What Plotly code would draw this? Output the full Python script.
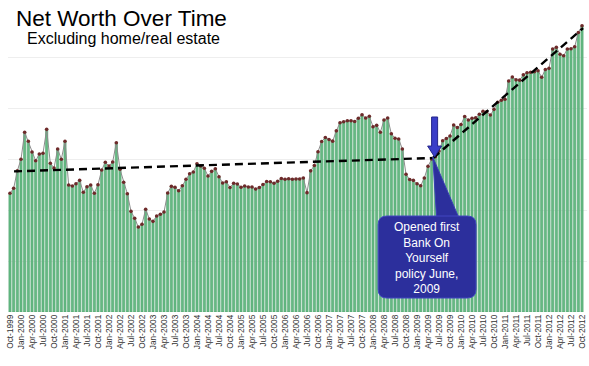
import pandas as pd
import plotly.graph_objects as go

# Monthly net worth (arbitrary $K units, gridline every 50), Oct-1999 .. Oct-2012
values = [
    116.4, 121.3, 138.5, 149.7, 176.2, 167.4, 156.9, 148.3, 154.9, 155.6,
    179.1, 145.8, 141.2, 159.8, 149.7, 167.4, 124.5, 123.5, 125.8, 129.1,
    117.4, 122.8, 124.5, 116.4, 124.8, 139.2, 146.8, 143.1, 147.1, 166.0,
    139.9, 127.2, 116.0, 98.7, 91.9, 83.3, 86.0, 100.7, 91.2, 88.9,
    94.1, 95.8, 98.0, 116.7, 123.2, 122.3, 118.9, 123.8, 130.1, 135.6,
    137.3, 145.4, 143.1, 140.9, 133.3, 137.9, 140.5, 132.6, 126.5, 127.7,
    122.1, 126.3, 125.5, 122.3, 123.5, 122.5, 122.5, 120.6, 122.1, 125.0,
    127.9, 127.7, 126.3, 128.2, 130.9, 130.2, 130.7, 130.1, 130.4, 130.4,
    131.4, 117.0, 138.4, 143.6, 157.1, 167.2, 171.1, 169.1, 167.5, 177.6,
    185.6, 186.5, 187.5, 187.5, 186.8, 189.9, 193.4, 190.2, 191.9, 181.7,
    183.0, 176.3, 188.2, 190.2, 174.7, 170.4, 169.6, 159.8, 135.1, 129.9,
    129.1, 125.8, 123.8, 131.4, 142.8, 150.0, 152.3, 157.8, 167.9, 170.1,
    172.5, 183.3, 180.9, 183.8, 191.7, 188.2, 189.9, 190.4, 193.9, 196.8,
    196.4, 193.1, 198.7, 205.6, 207.6, 208.6, 226.5, 230.4, 227.6, 227.3,
    232.5, 234.6, 235.1, 235.5, 236.6, 230.2, 237.7, 238.9, 257.8, 259.5,
    252.7, 251.3, 257.8, 258.1, 260.1, 274.0, 280.6,
]
months = pd.date_range("1999-10-01", periods=len(values), freq="MS")
month_idx = list(range(len(values)))
tick_idx = month_idx[::3]
tick_labels = [f"{months[i]:%b}-{months[i].year}" for i in tick_idx]

# Trend lines (month index, value)
trend1_x = [1.1, 115.4]
trend1_y = [137.9, 151.0]
trend2_x = [115.4, 156.3]
trend2_y = [151.0, 278.3]

callout_text = "Opened first<br>Bank On<br>Yourself<br>policy June,<br>2009"

FONT = "Arial, Liberation Sans, sans-serif"

fig = go.Figure()
fig.add_trace(go.Bar(
    x=month_idx, y=values,
    marker=dict(color="#66ba84", line=dict(color="#479c66", width=0.5)),
    hoverinfo="skip",
))
fig.add_trace(go.Scatter(
    x=month_idx, y=values, mode="lines+markers",
    line=dict(color="#8c8c8c", width=1),
    marker=dict(color="#6e2a2a", size=3.6),
    hoverinfo="skip",
))
for tx, ty in ((trend1_x, trend1_y), (trend2_x, trend2_y)):
    fig.add_trace(go.Scatter(
        x=tx, y=ty, mode="lines",
        line=dict(color="black", width=2.4, dash="8px,5px"),
        hoverinfo="skip",
    ))

# Callout box (rounded rect) and wedge
x0, x1, y0, y1 = 100.4, 127.1, 13.7, 94.1
rx, ry = 2.4, 8.5
box_path = (f"M {x0+rx},{y1} L {x1-rx},{y1} Q {x1},{y1} {x1},{y1-ry} "
            f"L {x1},{y0+ry} Q {x1},{y0} {x1-rx},{y0} L {x0+rx},{y0} "
            f"Q {x0},{y0} {x0},{y0+ry} L {x0},{y1-ry} Q {x0},{y1} {x0+rx},{y1} Z")
wedge_path = "M 115.3,152 L 116.4,90 L 122.7,90 Z"
# Down arrow
cx = 115.8
arrow_path = (f"M {cx-0.82},191.2 L {cx+0.82},191.2 L {cx+0.82},162.7 L {cx+1.9},162.7 "
              f"L {cx},152.0 L {cx-1.9},162.7 L {cx-0.82},162.7 Z")
shapes = [
    dict(type="path", path=wedge_path, xref="x", yref="y",
         fillcolor="#2c2f9c", line=dict(color="#3a3eb5", width=1), layer="above"),
    dict(type="path", path=box_path, xref="x", yref="y",
         fillcolor="#2c2f9c", line=dict(color="#4347c2", width=1), layer="above"),
    dict(type="path", path=arrow_path, xref="x", yref="y",
         fillcolor="#3a3dc8", line=dict(color="#24268a", width=1), layer="above"),
]

annotations = [
    dict(text="Net Worth Over Time", xref="paper", yref="paper",
         x=0.0095, y=0.973, xanchor="left", yanchor="middle", showarrow=False,
         font=dict(family=FONT, size=22.5, color="black")),
    dict(text="Excluding home/real estate", xref="paper", yref="paper",
         x=0.0285, y=0.905, xanchor="left", yanchor="middle", showarrow=False,
         font=dict(family=FONT, size=16, color="black")),
    dict(text=callout_text, xref="x", yref="y", x=113.7, y=52.6,
         xanchor="center", yanchor="middle", showarrow=False, align="center",
         font=dict(family=FONT, size=12, color="white")),
]

fig.update_layout(
    width=589, height=366,
    margin=dict(l=8, r=2, t=10, b=54),
    paper_bgcolor="white", plot_bgcolor="white",
    showlegend=False, bargap=0.38,
    shapes=shapes, annotations=annotations,
    font=dict(family=FONT),
)
fig.update_xaxes(
    range=[-0.545, 157.36], tickmode="array", tickvals=tick_idx, ticktext=tick_labels,
    tickangle=-90, tickfont=dict(family=FONT, size=8.3, color="#333333"),
    showgrid=False, zeroline=False, showline=False, ticks="", automargin=False,
)
fig.update_yaxes(
    range=[0, 296.1], dtick=50, showticklabels=False, showgrid=True,
    gridcolor="#eeeeee", gridwidth=1, zeroline=False, showline=False, ticks="",
    automargin=False,
)
fig.write_html(
    "out.html",
    config={"displayModeBar": False},
    post_script="document.body.style.margin='0';document.body.style.overflow='hidden';",
)
